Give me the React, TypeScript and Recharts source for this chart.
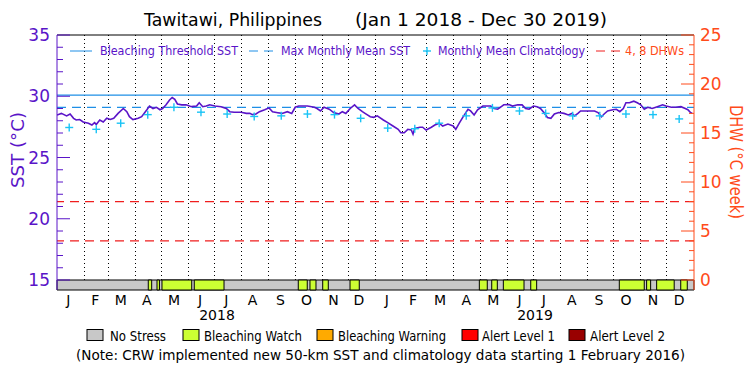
import React from "react";
import {
  ComposedChart,
  Bar,
  Line,
  Scatter,
  XAxis,
  YAxis,
  ReferenceLine,
  ReferenceArea,
} from "recharts";

// Day 0 = Jan 1 2018, axis runs to Jan 1 2020 (day 730)
const SST_DAYS = [
  0, 5, 11, 15, 19, 22, 26, 30, 36, 40, 43, 45, 49, 53, 57, 61, 65, 70, 76, 80,
  83, 87, 93, 97, 103, 106, 110, 114, 118, 121, 125, 129, 132, 135, 138, 143,
  148, 154, 160, 163, 167, 171, 175, 181, 188, 194, 198, 203, 211, 217, 221, 224,
  228, 232, 238, 243, 247, 253, 258, 264, 269, 273, 277, 287, 295, 298, 302, 306,
  312, 317, 323, 327, 331, 336, 341, 345, 350, 353, 359, 363, 367, 374, 379, 385,
  391, 394, 398, 402, 406, 408, 410, 416, 419, 423, 429, 433, 438, 442, 448, 454,
  457, 461, 465, 471, 474, 478, 482, 488, 491, 497, 501, 505, 508, 512, 518, 522,
  528, 533, 537, 541, 546, 550, 554, 558, 562, 566, 570, 575, 581, 586, 590, 593,
  597, 600, 608, 616, 620, 624, 627, 631, 637, 641, 645, 649, 652, 656, 661, 665,
  669, 673, 677, 682, 688, 694, 698, 704, 709, 715, 720, 723, 726, 728,
];
const SST_VALUES = [
  28.47, 28.6, 28.4, 28.55, 28.2, 28.06, 28.1, 27.9, 27.8, 27.65, 27.85, 27.7,
  28.06, 27.9, 28.2, 28.1, 28.2, 28.6, 29.0, 28.74, 28.33, 28.1, 28.2, 28.33,
  28.9, 29.2, 29.0, 29.1, 28.9, 29.0, 29.3, 29.7, 29.9, 29.75, 29.37, 29.3, 29.3,
  29.15, 29.2, 29.47, 29.15, 29.2, 29.3, 29.2, 29.15, 29.0, 28.74, 28.7, 28.7,
  28.6, 28.6, 28.5, 28.55, 28.74, 28.9, 29.05, 28.74, 28.66, 28.6, 28.74, 28.6,
  29.1, 29.2, 29.2, 29.1, 29.0, 28.8, 29.1, 28.94, 28.67, 28.55, 28.74, 28.6,
  29.0, 29.3, 29.0, 28.74, 28.6, 28.33, 28.28, 28.4, 28.06, 27.85, 27.57, 27.3,
  27.02, 27.02, 27.3, 27.24, 26.9, 27.38, 27.47, 27.47, 27.24, 27.47, 27.65,
  27.8, 27.57, 27.73, 27.57, 27.3, 27.8, 28.28, 28.94, 28.8, 28.47, 28.9, 29.2,
  29.2, 29.2, 29.0, 28.94, 29.1, 29.3, 29.33, 29.2, 29.3, 29.3, 29.0, 28.94,
  29.2, 29.15, 29.0, 28.67, 28.26, 28.2, 28.55, 28.67, 28.6, 28.47, 28.6, 28.4,
  28.6, 28.8, 28.8, 28.8, 28.67, 28.33, 28.55, 28.8, 28.9, 28.94, 28.74, 29.0,
  29.47, 29.47, 29.6, 29.47, 29.3, 28.94, 29.1, 29.0, 29.15, 29.3, 29.2, 29.1,
  29.1, 29.15, 29.0, 28.9, 28.67, 28.6,
];

const CLIM_DAYS = [
  14, 45, 73, 104, 134, 165, 195, 226, 257, 287, 318, 348,
  379, 410, 438, 469, 499, 530, 560, 591, 622, 652, 683, 713,
];
const CLIM_VALUES = [
  27.45, 27.3, 27.8, 28.5, 29.1, 28.7, 28.55, 28.35, 28.4, 28.55, 28.5, 28.2,
  27.4, 27.35, 27.8, 28.4, 29.05, 28.8, 28.6, 28.4, 28.4, 28.55, 28.5, 28.15,
];

const BLEACHING_THRESHOLD = 30.1;
const MMM = 29.1;
const DHW_LEVELS = [4, 8];

const MONTH_STARTS = [
  31, 59, 90, 120, 151, 181, 212, 243, 273, 304, 334, 365,
  396, 424, 455, 485, 516, 546, 577, 608, 638, 669, 699,
];
const MONTH_TICK_DAYS = [
  13, 44, 73, 103, 134, 164, 194, 224, 256, 286, 317, 346,
  378, 408, 439, 469, 500, 530, 558, 590, 621, 652, 683, 713,
];
const MONTH_LABELS = [
  "J", "F", "M", "A", "M", "J", "J", "A", "S", "O", "N", "D",
  "J", "F", "M", "A", "M", "J", "J", "A", "S", "O", "N", "D",
];
const YEAR_LABELS = ["2018", "2019"];

// bleaching watch periods in the status strip
const WATCH_START = [104.6, 114.6, 120.3, 157.3, 276.5, 289.9, 304.5, 335.8, 484, 498.2, 511.5, 542.9, 644.4, 675.7, 687.2, 714.8];
const WATCH_END = [108.5, 117.4, 154.4, 191.4, 286.8, 296.8, 310.9, 346.4, 493.1, 504.6, 535.2, 549.7, 673, 680.3, 707.3, 722.3];

const SST_TICKS = [15, 16, 17, 18, 19, 20, 21, 22, 23, 24, 25, 26, 27, 28, 29, 30, 31, 32, 33, 34, 35];
const DHW_TICKS = [0, 1, 2, 3, 4, 5, 6, 7, 8, 9, 10, 11, 12, 13, 14, 15, 16, 17, 18, 19, 20, 21, 22, 23, 24, 25];

const STATUS_LABELS = ["No Stress", "Bleaching Watch", "Bleaching Warning", "Alert Level 1", "Alert Level 2"];
const STATUS_COLORS = ["#c8c8c8", "#ccff33", "#ffaa00", "#ff0000", "#990000"];

const PURPLE = "#5a14c8";
const BLUE = "#1e8fe6";
const CYAN = "#19c3f5";
const RED = "#f01e1e";
const ORANGE = "#ff4b1a";
const FONT = "'DejaVu Sans', sans-serif";

// strip sits 10px under SST 15 (12.25 px/°C, 9.8 px/DHW)
const SST_MIN = 15 - 10 / 12.25;
const DHW_MIN = -10 / 9.8;

const sstData = SST_DAYS.map((d, i) => ({ day: d, sst: SST_VALUES[i] }));
const climData = CLIM_DAYS.map((d, i) => ({ day: d, clim: CLIM_VALUES[i] }));
// month dividers as range bars spanning SST 15..35
const dividerData = MONTH_STARTS.map((d) => ({ day: d, span: [15, 35] }));

function SstTick(props: any) {
  const { x, y, payload } = props;
  const major = payload.value % 5 === 0;
  return (
    <g>
      <line x1={x} x2={x + (major ? 13 : 6)} y1={y} y2={y} stroke={PURPLE} />
      {major && (
        <text x={x - 7} y={y} textAnchor="end" dominantBaseline="central" fontSize={17} fill={PURPLE} fontFamily={FONT}>
          {payload.value}
        </text>
      )}
    </g>
  );
}

function DhwTick(props: any) {
  const { x, y, payload } = props;
  const major = payload.value % 5 === 0;
  return (
    <g>
      <line x1={x} x2={x - (major ? 13 : 5)} y1={y} y2={y} stroke={ORANGE} />
      {major && (
        <text x={x + 6} y={y} textAnchor="start" dominantBaseline="central" fontSize={17} fill={ORANGE} fontFamily={FONT}>
          {payload.value}
        </text>
      )}
    </g>
  );
}

function MonthTick(props: any) {
  const { x, y, payload } = props;
  const i = MONTH_TICK_DAYS.indexOf(payload.value);
  return (
    <text x={x} y={y + 10} textAnchor="middle" dominantBaseline="central" fontSize={14} fill="#000" fontFamily={FONT}>
      {MONTH_LABELS[i]}
    </text>
  );
}

function Plus(props: any) {
  const { cx, cy } = props;
  return (
    <g stroke={CYAN} strokeWidth={1.4}>
      <line x1={cx - 4} x2={cx + 4} y1={cy} y2={cy} />
      <line x1={cx} x2={cx} y1={cy - 4} y2={cy + 4} />
    </g>
  );
}

function Divider(props: any) {
  const { x, y, width, height } = props;
  if (x == null || y == null) return <g />;
  const cx = x + (width || 0) / 2;
  return (
    <line x1={cx} x2={cx} y1={y} y2={y + height} stroke="#000" strokeWidth={1} strokeDasharray="1 3" shapeRendering="crispEdges" />
  );
}

function Overlay() {
  const legendY = 51;
  const boxX = [87, 183, 317, 462, 569];
  const textX = [110, 204, 338, 482, 590];
  const textW = [56, 98, 108, 73, 75];
  return (
    <svg width={750} height={375} style={{ position: "absolute", left: 0, top: 0, pointerEvents: "none" }} fontFamily={FONT}>
      <text x={144} y={19} fontSize={18} dominantBaseline="central" textLength={178} lengthAdjust="spacingAndGlyphs">
        Tawitawi, Philippines
      </text>
      <text x={355} y={19} fontSize={18} dominantBaseline="central" textLength={252} lengthAdjust="spacingAndGlyphs">
        (Jan 1 2018 - Dec 30 2019)
      </text>

      <line x1={70} x2={92} y1={legendY} y2={legendY} stroke={BLUE} />
      <text x={100} y={legendY} fontSize={12} fill={PURPLE} dominantBaseline="central" textLength={138} lengthAdjust="spacingAndGlyphs">
        Bleaching Threshold SST
      </text>
      <line x1={249} x2={273} y1={legendY} y2={legendY} stroke={BLUE} strokeDasharray="9 6" />
      <text x={281} y={legendY} fontSize={12} fill={PURPLE} dominantBaseline="central" textLength={129} lengthAdjust="spacingAndGlyphs">
        Max Monthly Mean SST
      </text>
      <g stroke={CYAN} strokeWidth={1.4}>
        <line x1={423} x2={431} y1={legendY} y2={legendY} />
        <line x1={427} x2={427} y1={legendY - 4} y2={legendY + 4} />
      </g>
      <text x={438} y={legendY} fontSize={12} fill={PURPLE} dominantBaseline="central" textLength={147} lengthAdjust="spacingAndGlyphs">
        Monthly Mean Climatology
      </text>
      <line x1={596} x2={620} y1={legendY} y2={legendY} stroke={RED} strokeDasharray="9 6" />
      <text x={625} y={legendY} fontSize={12} fill={ORANGE} dominantBaseline="central" textLength={59} lengthAdjust="spacingAndGlyphs">
        4, 8 DHWs
      </text>

      <text transform="translate(18,150) rotate(-90)" fontSize={17} fill={PURPLE} textAnchor="middle" dominantBaseline="central" textLength={76} lengthAdjust="spacingAndGlyphs">
        SST (°C)
      </text>
      <text transform="translate(736,162) rotate(90)" fontSize={17} fill={ORANGE} textAnchor="middle" dominantBaseline="central" textLength={114} lengthAdjust="spacingAndGlyphs">
        DHW (°C week)
      </text>

      <text x={217} y={315} fontSize={14} textAnchor="middle" dominantBaseline="central">{YEAR_LABELS[0]}</text>
      <text x={535} y={315} fontSize={14} textAnchor="middle" dominantBaseline="central">{YEAR_LABELS[1]}</text>

      {STATUS_LABELS.map((label, i) => (
        <g key={label}>
          <rect x={boxX[i]} y={329.5} width={16} height={11} fill={STATUS_COLORS[i]} stroke="#000" />
          <text x={textX[i]} y={336} fontSize={14} dominantBaseline="central" textLength={textW[i]} lengthAdjust="spacingAndGlyphs">
            {label}
          </text>
        </g>
      ))}
      <text x={76} y={355} fontSize={14} dominantBaseline="central" textLength={609} lengthAdjust="spacingAndGlyphs">
        (Note: CRW implemented new 50-km SST and climatology data starting 1 February 2016)
      </text>
    </svg>
  );
}

export default function App() {
  return (
    <div style={{ position: "absolute", left: 0, top: 0, width: 750, height: 375, background: "#fff" }}>
      <ComposedChart width={750} height={375} data={dividerData} margin={{ top: 35, right: 16, left: 17, bottom: 55 }}>
        <XAxis
          dataKey="day"
          type="number"
          domain={[0, 730]}
          ticks={MONTH_TICK_DAYS}
          interval={0}
          allowDataOverflow
          axisLine={false}
          tickLine={false}
          tickSize={0}
          tickMargin={0}
          height={30}
          tick={<MonthTick />}
        />
        <YAxis
          yAxisId="sst"
          domain={[SST_MIN, 35]}
          ticks={SST_TICKS}
          interval={0}
          allowDataOverflow
          width={40}
          tickSize={0}
          tickMargin={0}
          tickLine={false}
          axisLine={{ stroke: PURPLE }}
          tick={<SstTick />}
        />
        <YAxis
          yAxisId="dhw"
          orientation="right"
          domain={[DHW_MIN, 25]}
          ticks={DHW_TICKS}
          interval={0}
          allowDataOverflow
          width={40}
          tickSize={0}
          tickMargin={0}
          tickLine={false}
          axisLine={{ stroke: ORANGE }}
          tick={<DhwTick />}
        />

        <ReferenceArea yAxisId="sst" x1={0} x2={730} y1={SST_MIN} y2={15} fill={STATUS_COLORS[0]} fillOpacity={1} stroke="#000" />
        {WATCH_START.map((s, i) => (
          <ReferenceArea
            key={"w" + i}
            yAxisId="sst"
            x1={s}
            x2={WATCH_END[i]}
            y1={SST_MIN}
            y2={15}
            fill={STATUS_COLORS[1]}
            fillOpacity={1}
            stroke="#000"
          />
        ))}

        <Bar yAxisId="sst" dataKey="span" barSize={2} shape={<Divider />} isAnimationActive={false} />

        <ReferenceLine yAxisId="sst" y={35} stroke="#000" />
        <ReferenceLine yAxisId="sst" y={BLEACHING_THRESHOLD} stroke={BLUE} strokeWidth={1.2} />
        <ReferenceLine yAxisId="sst" y={MMM} stroke={BLUE} strokeDasharray="9 6" strokeWidth={1.2} />
        {DHW_LEVELS.map((v) => (
          <ReferenceLine key={"d" + v} yAxisId="dhw" y={v} stroke={RED} strokeDasharray="9 6" strokeWidth={1.2} />
        ))}

        <Scatter yAxisId="sst" data={climData} dataKey="clim" shape={<Plus />} isAnimationActive={false} />
        <Line
          yAxisId="sst"
          data={sstData}
          dataKey="sst"
          type="linear"
          stroke={PURPLE}
          strokeWidth={1.6}
          dot={false}
          isAnimationActive={false}
        />
      </ComposedChart>
      <Overlay />
    </div>
  );
}
